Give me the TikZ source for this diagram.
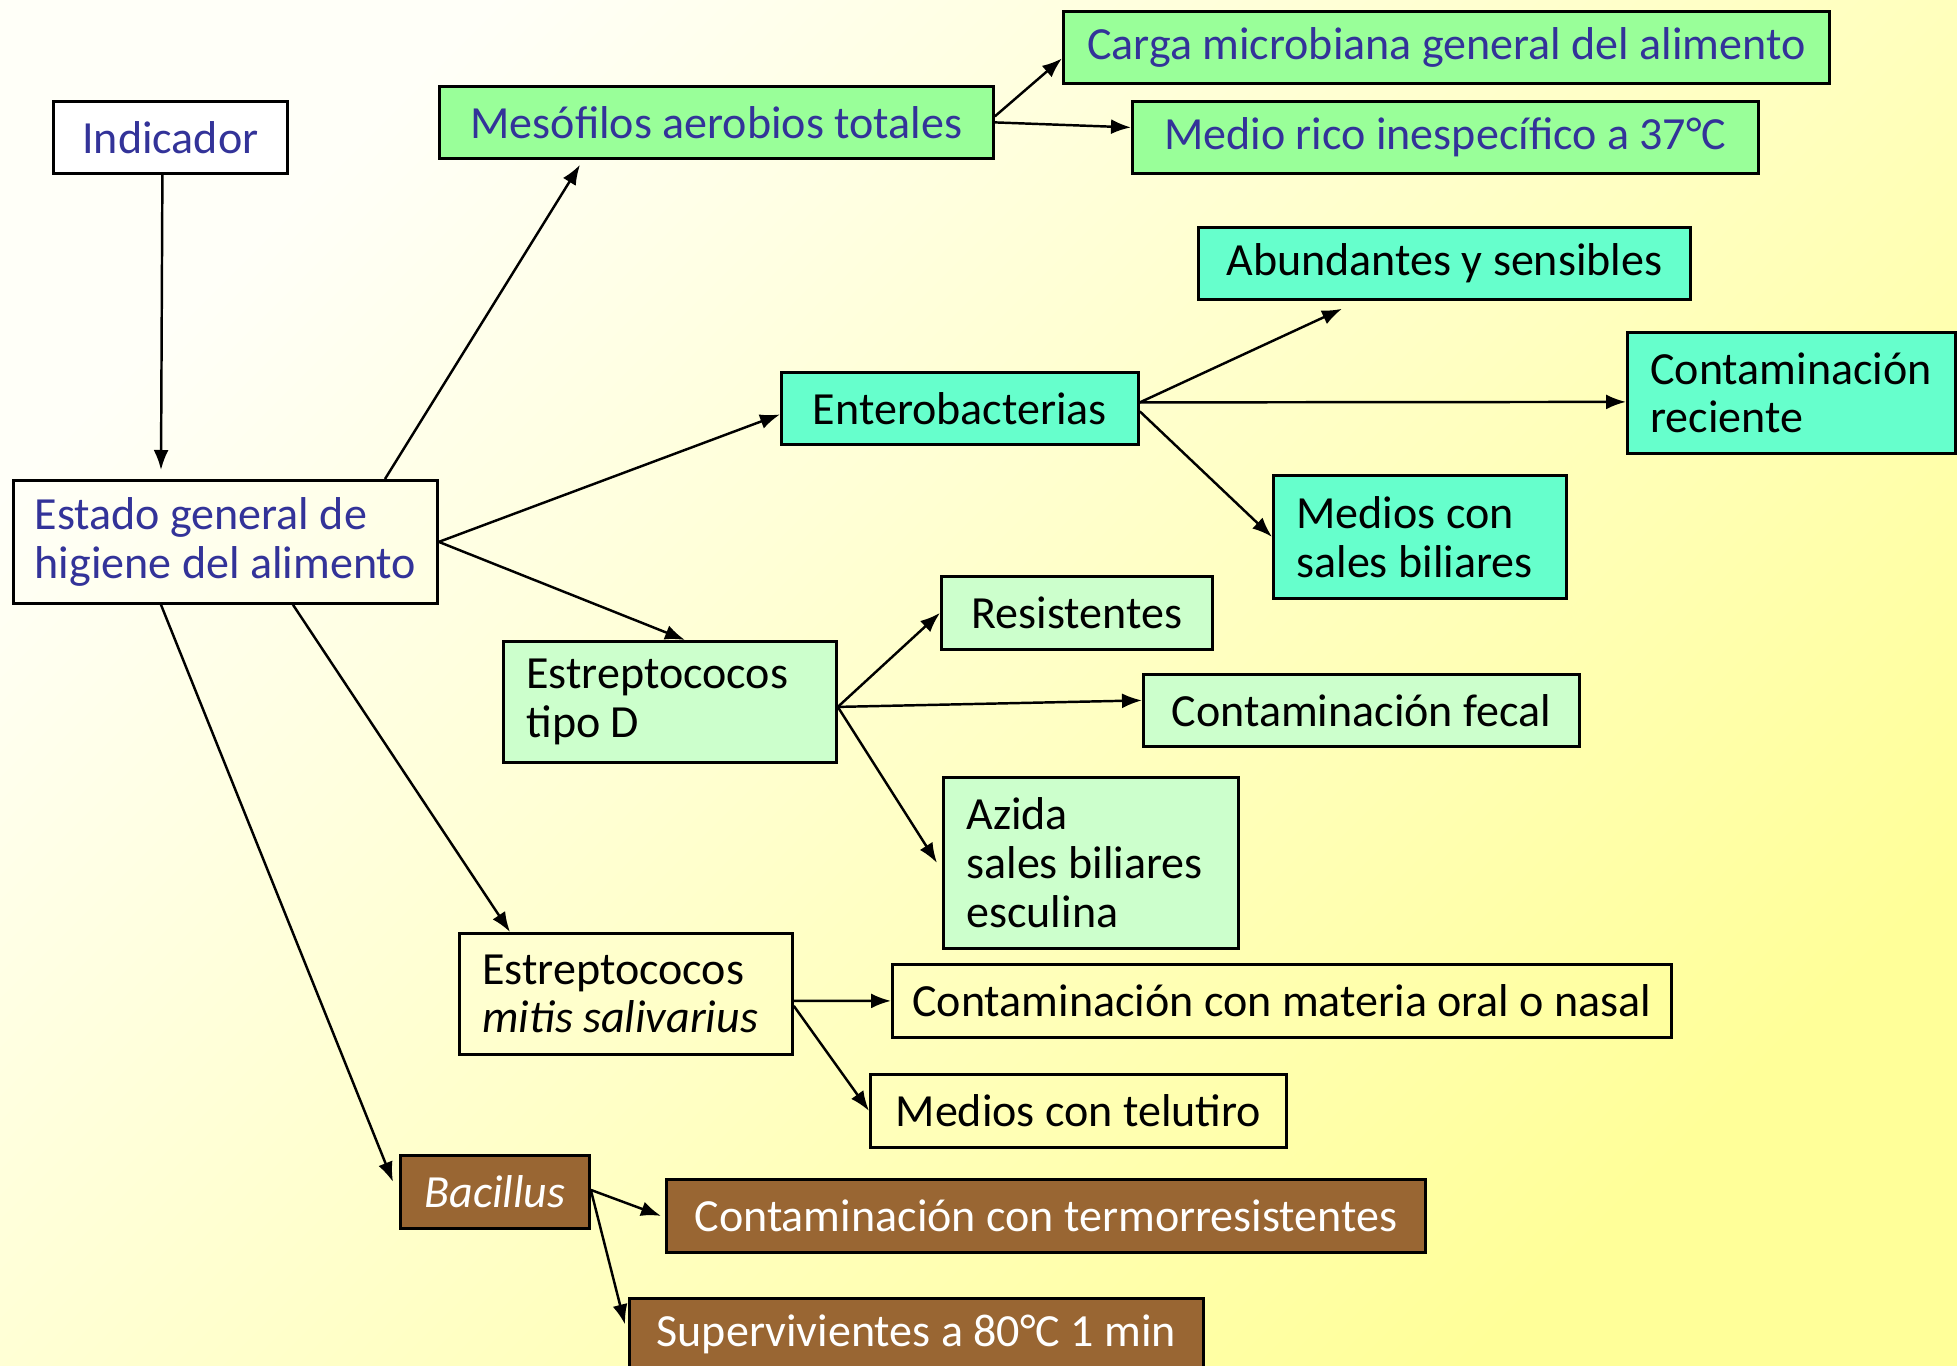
\documentclass[tikz,border=0pt]{standalone}
\usepackage{fontspec}
\setmainfont{Carlito}
\usepackage{tikz}
\usetikzlibrary{arrows.meta}
\definecolor{azultxt}{HTML}{333399}
\definecolor{verdemeso}{HTML}{99FF99}
\definecolor{aguaentero}{HTML}{66FFCC}
\definecolor{verdepalido}{HTML}{CCFFCC}
\definecolor{marron}{HTML}{996633}
\definecolor{fondoclaro}{HTML}{FFFFF8}
\definecolor{fondoamarillo}{HTML}{FFFF99}

\begin{document}
\begin{tikzpicture}[font=\fontsize{13.1}{13.9}\selectfont, line width=0.7pt, -{Latex[length=2mm,width=1.5mm]},
  caja/.style={draw, line width=0.8pt, anchor=north west, inner xsep=0.15cm, inner ysep=0pt, align=left},
  varias/.style={inner xsep=0.23cm, align=flush left}]
	\useasboundingbox (0,0) rectangle (19.57,-13.66);
	\shade[top color=fondoclaro, bottom color=fondoamarillo, shading angle=45] (0,0) rectangle (19.57,-13.66);
	\node[caja, fill=white, text=azultxt, minimum width=2.34cm, minimum height=0.72cm] (indicador) at (0.52,-1.00) {Indicador};
	\node[caja, text=azultxt, minimum width=4.24cm, minimum height=1.23cm] (estado) at (0.12,-4.79) {Estado general de\\higiene del alimento};
	\node[caja, fill=verdemeso, text=azultxt, minimum width=5.54cm, minimum height=0.72cm] (meso) at (4.38,-0.85) {Mesófilos aerobios totales};
	\node[caja, fill=verdemeso, text=azultxt, minimum width=7.66cm, minimum height=0.72cm] (carga) at (10.62,-0.10) {Carga microbiana general del alimento};
	\node[caja, fill=verdemeso, text=azultxt, minimum width=6.26cm, minimum height=0.72cm] (medio) at (11.31,-1.00) {Medio rico inespecífico a 37°C};
	\node[caja, fill=aguaentero, minimum width=4.92cm, minimum height=0.72cm] (abund) at (11.97,-2.26) {Abundantes y sensibles};
	\node[caja, fill=aguaentero, minimum width=3.57cm, minimum height=0.72cm] (entero) at (7.80,-3.71) {Enterobacterias};
	\node[caja, fill=aguaentero, varias, text width=2.82cm, minimum height=1.21cm] (reciente) at (16.26,-3.31) {Contaminación\\reciente};
	\node[caja, fill=aguaentero, varias, text width=2.47cm, minimum height=1.23cm] (biliares) at (12.72,-4.74) {Medios con\\sales biliares};
	\node[caja, fill=verdepalido, minimum width=2.71cm, minimum height=0.73cm] (resist) at (9.40,-5.75) {Resistentes};
	\node[caja, fill=verdepalido, varias, text width=2.87cm, minimum height=1.21cm] (estrepD) at (5.02,-6.40) {Estreptococos\\tipo D};
	\node[caja, fill=verdepalido, minimum width=4.36cm, minimum height=0.72cm] (fecal) at (11.42,-6.73) {Contaminación fecal};
	\node[caja, fill=verdepalido, varias, text width=2.49cm, minimum height=1.71cm] (azida) at (9.42,-7.76) {Azida\\sales biliares\\esculina};
	\node[caja, varias, text width=2.87cm, minimum height=1.21cm] (mitis) at (4.58,-9.32) {Estreptococos\\\textit{mitis salivarius}};
	\node[caja, minimum width=7.79cm, minimum height=0.73cm] (oral) at (8.91,-9.63) {Contaminación con materia oral o nasal};
	\node[caja, minimum width=4.16cm, minimum height=0.73cm] (telurito) at (8.69,-10.73) {Medios con telutiro};
	\node[caja, fill=marron, text=white, minimum width=1.89cm, minimum height=0.73cm] (bacillus) at (3.99,-11.54) {\textit{Bacillus}};
	\node[caja, fill=marron, text=white, minimum width=7.59cm, minimum height=0.73cm] (termo) at (6.65,-11.78) {Contaminación con termorresistentes};
	\node[caja, fill=marron, text=white, minimum width=5.74cm, minimum height=0.72cm] (superv) at (6.28,-12.97) {Supervivientes a 80°C 1 min};
	\draw ([xshift=-0.08cm]indicador.south) -- ([xshift=1.49cm,yshift=0.09cm]estado.north west);
	\draw ([xshift=3.73cm]estado.north west) -- ([xshift=1.42cm,yshift=-0.05cm]meso.south west);
	\draw (estado.east) -- ([yshift=-0.06cm]entero.west);
	\draw (estado.east) -- ([xshift=1.83cm]estrepD.north west);
	\draw ([xshift=2.81cm]estado.south west) -- ([xshift=0.52cm]mitis.north west);
	\draw ([xshift=1.49cm]estado.south west) -- ([xshift=-0.06cm,yshift=0.1cm]bacillus.west);
	\draw ([yshift=0.06cm]meso.east) -- ([yshift=-0.11cm]carga.west);
	\draw (meso.east) -- ([yshift=0.1cm]medio.west);
	\draw ([yshift=0.06cm]entero.east) -- ([xshift=1.45cm,yshift=-0.08cm]abund.south west);
	\draw ([yshift=0.06cm]entero.east) -- ([yshift=-0.09cm]reciente.west);
	\draw ([yshift=-0.03cm]entero.east) -- (biliares.west);
	\draw ([yshift=-0.05cm]estrepD.east) -- (resist.west);
	\draw ([yshift=-0.05cm]estrepD.east) -- ([yshift=0.1cm]fecal.west);
	\draw ([yshift=-0.05cm]estrepD.east) -- ([xshift=-0.05cm]azida.west);
	\draw ([yshift=-0.07cm]mitis.east) -- (oral.west);
	\draw ([yshift=-0.12cm]mitis.east) -- (telurito.west);
	\draw ([yshift=0.02cm]bacillus.east) -- ([xshift=-0.04cm]termo.west);
	\draw ([yshift=0.02cm]bacillus.east) -- ([xshift=-0.03cm,yshift=0.1cm]superv.west);
\end{tikzpicture}
\end{document}
